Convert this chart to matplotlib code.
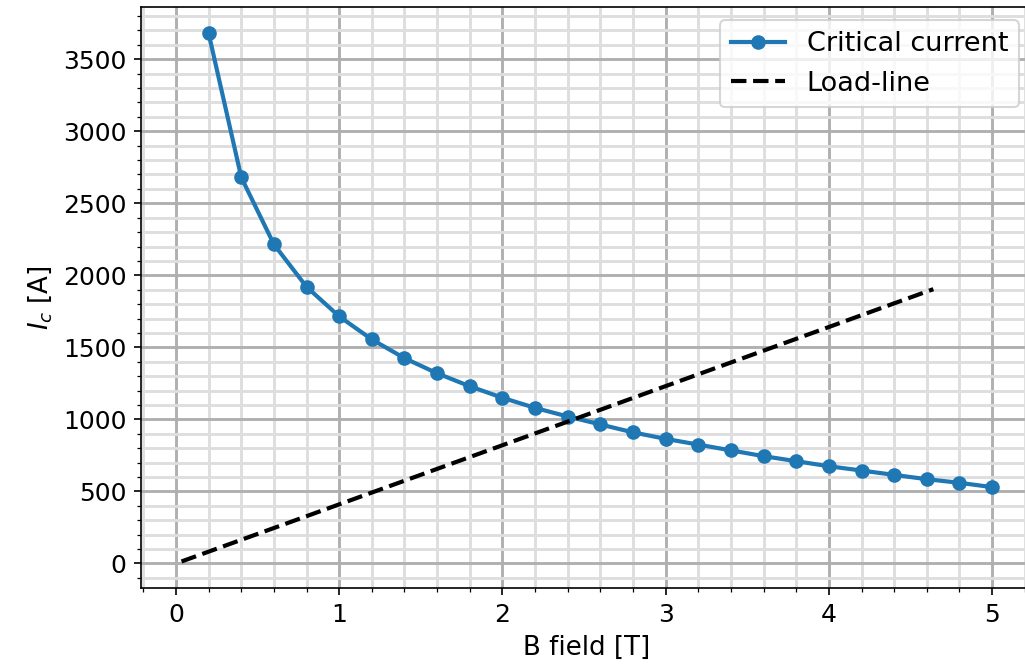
import numpy as np
import matplotlib
matplotlib.use("Agg")
import matplotlib.pyplot as plt
from matplotlib.ticker import MultipleLocator

# Critical current vs field
B_FIELD = [0.2, 0.4, 0.6, 0.8, 1.0, 1.2, 1.4, 1.6, 1.8, 2.0, 2.2, 2.4, 2.6,
           2.8, 3.0, 3.2, 3.4, 3.6, 3.8, 4.0, 4.2, 4.4, 4.6, 4.8, 5.0]
I_CRIT = [3680, 2680, 2215, 1920, 1715, 1555, 1425, 1320, 1230, 1150, 1080,
          1020, 965, 910, 865, 825, 785, 745, 710, 675, 645, 615, 585, 560, 530]

# Load-line end points
LOAD_B = [0.034, 4.64]
LOAD_I = [14, 1904]

DPI = 150


def main():
    plt.rcParams['font.size'] = 12
    fig = plt.figure(figsize=(1025 / DPI, 669 / DPI), dpi=DPI)
    ax = fig.add_axes([0.1376, 0.1211, 0.8698, 0.869])

    ax.plot(B_FIELD, I_CRIT, 'o-', color='tab:blue', lw=2, ms=6,
            label='Critical current')
    ax.plot(LOAD_B, LOAD_I, 'k--', lw=2, label='Load-line')

    ax.set_xlim(-0.214, 5.248)
    ax.set_ylim(-170, 3865)

    ax.xaxis.set_major_locator(MultipleLocator(1))
    ax.xaxis.set_minor_locator(MultipleLocator(0.2))
    ax.yaxis.set_major_locator(MultipleLocator(500))
    ax.yaxis.set_minor_locator(MultipleLocator(100))

    ax.grid(which='major', color='#b0b0b0', linewidth=1.4)
    ax.grid(which='minor', color='#dedede', linewidth=1.4)
    ax.set_axisbelow(True)

    ax.set_xlabel('B field [T]', fontsize=12.5)
    ax.set_ylabel('$I_c$ [A]', fontsize=12.5)
    ax.legend(loc='upper right', fontsize=13)

    fig.savefig('out.png', dpi=DPI)


if __name__ == "__main__":
    main()
